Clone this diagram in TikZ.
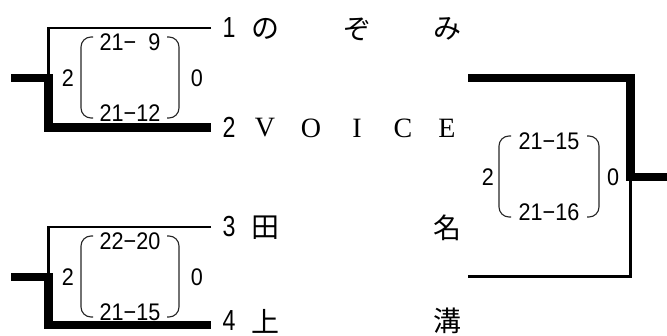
\documentclass[tikz,border=0pt]{standalone}
\usepackage{fontspec}
\setmainfont{Liberation Serif}
\newfontfamily\scorefont[FakeStretch=0.9]{Liberation Sans}
\newfontfamily\labelfont[FakeStretch=0.8]{Liberation Sans}
\newfontfamily\cjk{Noto Sans CJK JP}
\tikzset{
  thinline/.style={line width=2.7pt},
  thickline/.style={line width=8.5pt, line join=miter},
  paren/.style={line width=1.1pt, draw=black!85, rounded corners=10pt},
  score/.style={inner sep=0pt, font=\scorefont\fontsize{24}{24}\selectfont},
  seed/.style={inner sep=0pt, font=\labelfont\fontsize{29}{29}\selectfont},
  jp/.style={inner sep=0pt, font=\cjk\fontsize{28}{28}\selectfont},
  lat/.style={inner sep=0pt, font=\fontsize{28}{28}\selectfont},
}
\begin{document}
\begin{tikzpicture}[x=1pt,y=-1pt]
\useasboundingbox (0,0) rectangle (667,336);

% ---- bracket 1-2 ----
\coordinate (a1) at (211,28);
\coordinate (a2) at (211,127.5);
\coordinate (ac) at (48.5,28);
\coordinate (am) at (48.5,78);
\coordinate (ab) at (48.5,127.5);
\coordinate (as) at (11,78);
\draw[thinline] (a1) -- (ac) -- (am);
\draw[thickline] (as) -- (am) -- (ab) -- (a2);

% ---- bracket 3-4 ----
\coordinate (b1) at (211,227);
\coordinate (b2) at (211,325);
\coordinate (bc) at (48.5,227);
\coordinate (bm) at (48.5,277);
\coordinate (bb) at (48.5,325);
\coordinate (bs) at (11,277);
\draw[thinline] (b1) -- (bc) -- (bm);
\draw[thickline] (bs) -- (bm) -- (bb) -- (b2);

% ---- final bracket ----
\coordinate (f1) at (468,78);
\coordinate (fc) at (630.5,78);
\coordinate (fm) at (630.5,177);
\coordinate (fs) at (667,177);
\coordinate (fb) at (630.5,276.5);
\coordinate (f2) at (468,276.5);
\draw[thickline] (f1) -- (fc) -- (fm) -- (fs);
\draw[thinline] (fm) -- (fb) -- (f2);

% ---- score box 1 ----
\node[score] (s1w) at (68,78) {2};
\node[score] (s1l) at (197,78) {0};
\node[score] (s1a) at (130,42) {21−\phantom{1}9};
\node[score] (s1b) at (130,113) {21−12};
\draw[paren] (93,37) -- (81,37) -- (81,118) -- (93,118);
\draw[paren] (167,37) -- (179,37) -- (179,118) -- (167,118);

% ---- score box 2 ----
\node[score] (s2w) at (68,277) {2};
\node[score] (s2l) at (197,277) {0};
\node[score] (s2a) at (130,241) {22−20};
\node[score] (s2b) at (130,312) {21−15};
\draw[paren] (93,236) -- (81,236) -- (81,317) -- (93,317);
\draw[paren] (167,236) -- (179,236) -- (179,317) -- (167,317);

% ---- score box final ----
\node[score] (s3w) at (488,177) {2};
\node[score] (s3l) at (613,177) {0};
\node[score] (s3a) at (549,141) {21−15};
\node[score] (s3b) at (549,212) {21−16};
\draw[paren] (511,136) -- (499,136) -- (499,217) -- (511,217);
\draw[paren] (587,136) -- (599,136) -- (599,217) -- (587,217);

% ---- seeds ----
\node[seed] (n1) at (229,28) {1};
\node[seed] (n2) at (229,127) {2};
\node[seed] (n3) at (229,227) {3};
\node[seed] (n4) at (229,321) {4};

% ---- names ----
\node[jp] (p1a) at (265,29) {の};
\node[jp] (p1b) at (357,29) {ぞ};
\node[jp] (p1c) at (447,29) {み};

\node[lat] (p2a) at (265,128) {V};
\node[lat] (p2b) at (311,128) {O};
\node[lat] (p2c) at (357,128) {I};
\node[lat] (p2d) at (403,128) {C};
\node[lat] (p2e) at (447,128) {E};

\node[jp] (p3a) at (265,228) {田};
\node[jp] (p3b) at (447,228) {名};

\node[jp] (p4a) at (265,321) {上};
\node[jp] (p4b) at (447,321) {溝};
\end{tikzpicture}
\end{document}
